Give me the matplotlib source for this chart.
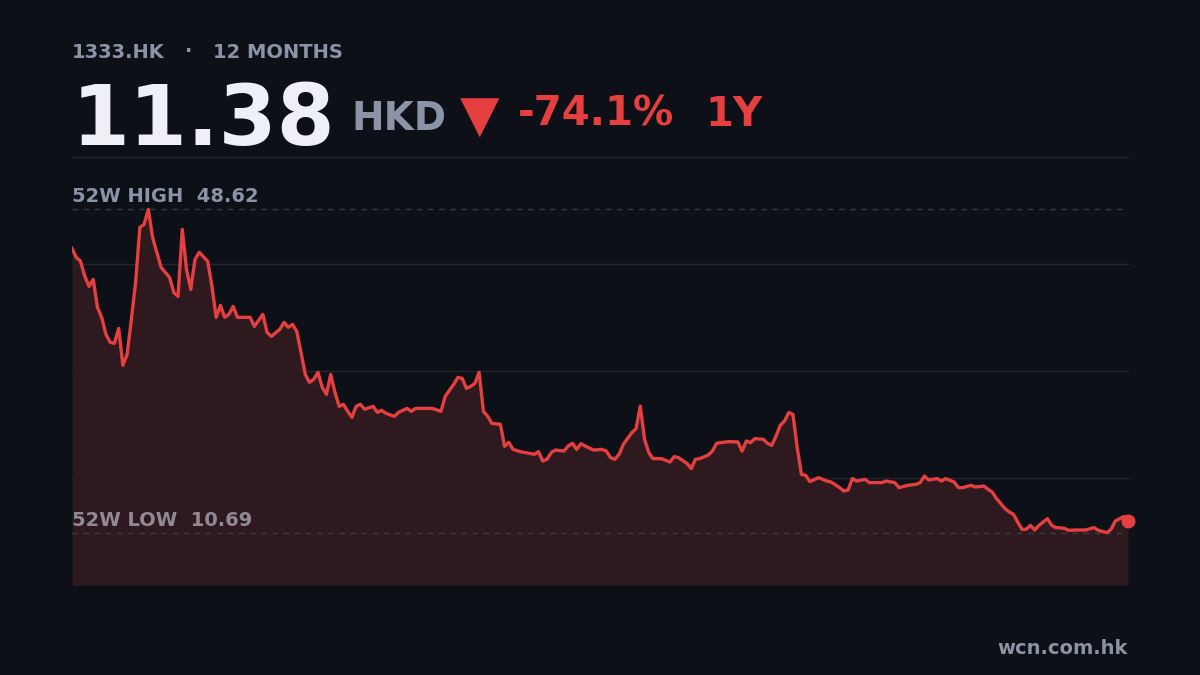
import matplotlib
matplotlib.use('Agg')
import matplotlib.pyplot as plt

plt.rcParams['font.family'] = ['DejaVu Sans']

# trading day index (0 = first day of the 12 months) and close price, HKD
days = [0, 1, 2, 3, 4, 5, 6, 7, 8, 9, 10, 11, 12, 13, 14, 15, 16, 17, 18, 19,
        20, 21, 23, 24, 25, 26, 27, 28, 29, 30, 32, 33, 34, 35, 36, 37, 38, 39,
        42, 43, 45, 46, 47, 49, 50, 51, 52, 53, 54, 55, 56, 57, 58, 59, 60, 61,
        62, 63, 64, 65, 66, 67, 68, 69, 71, 72, 73, 74, 76, 77, 79, 80, 81, 84,
        85, 87, 88, 90, 91, 92, 93, 94, 95, 96, 97, 98, 99, 101, 102, 103, 104,
        106, 107, 109, 110, 111, 112, 113, 114, 116, 117, 118, 119, 120, 121,
        123, 125, 126, 127, 128, 129, 130, 132, 133, 134, 135, 136, 137, 139,
        141, 142, 143, 145, 146, 147, 148, 150, 151, 152, 153, 155, 157, 158,
        159, 160, 161, 163, 164, 165, 166, 167, 168, 169, 170, 171, 172, 173,
        174, 176, 178, 179, 181, 182, 183, 184, 185, 187, 188, 191, 192, 194,
        195, 197, 199, 200, 201, 202, 204, 205, 206, 208, 209, 210, 212, 213,
        215, 216, 217, 218, 220, 221, 222, 223, 224, 225, 226, 227, 228, 230,
        231, 232, 234, 235, 237, 239, 241, 242, 244, 245, 246, 248, 249]
prices = [44.05, 42.99, 42.55, 40.80, 39.59, 40.41, 37.12, 35.95, 33.96, 33.02,
          32.90, 34.66, 30.32, 31.61, 35.72, 40.06, 46.51, 46.86, 48.62, 45.34,
          43.58, 41.82, 40.64, 38.88, 38.41, 46.27, 41.58, 39.23, 42.75, 43.58,
          42.52, 39.59, 35.95, 37.36, 35.95, 36.30, 37.24, 35.95, 35.95, 34.89,
          36.30, 34.19, 33.72, 34.54, 35.36, 34.78, 35.13, 34.31, 31.84, 29.26,
          28.32, 28.68, 29.50, 27.74, 26.92, 29.26, 27.15, 25.51, 25.74, 24.92,
          24.22, 25.51, 25.74, 25.16, 25.51, 24.80, 25.04, 24.69, 24.34, 24.80,
          25.27, 24.92, 25.27, 25.27, 25.27, 24.92, 26.68, 28.09, 28.91, 28.79,
          27.62, 27.85, 28.21, 29.50, 24.92, 24.34, 23.51, 23.40, 20.82, 21.28,
          20.46, 20.15, 20.08, 19.88, 20.19, 19.09, 19.29, 20.08, 20.38, 20.26,
          20.85, 21.17, 20.46, 21.13, 20.85, 20.38, 20.46, 20.26, 19.49, 19.29,
          19.88, 21.05, 22.42, 22.89, 25.54, 21.64, 20.08, 19.37, 19.37, 18.97,
          19.61, 19.49, 18.82, 18.20, 19.29, 19.37, 19.79, 20.26, 21.17, 21.25,
          21.37, 21.32, 20.26, 21.44, 21.25, 21.72, 21.64, 21.17, 20.93, 22.02,
          23.28, 23.78, 24.77, 24.57, 20.66, 17.53, 17.41, 16.67, 17.14, 16.74,
          16.63, 15.97, 15.57, 15.69, 17.03, 16.74, 16.94, 16.56, 16.56, 16.74,
          16.56, 15.97, 16.24, 16.36, 16.56, 17.33, 16.86, 17.03, 16.74, 17.03,
          16.63, 15.97, 15.97, 16.24, 16.04, 16.16, 15.77, 15.45, 14.68, 13.51,
          13.11, 12.84, 11.93, 11.08, 11.08, 11.55, 11.00, 11.55, 12.33, 11.55,
          11.28, 11.20, 10.96, 11.00, 11.00, 11.28, 10.96, 10.69, 11.08, 12.05,
          12.57, 12.05]

ticker = '1333.HK'
period = '12 MONTHS'
last_price = '11.38'
currency = 'HKD'
change = '-74.1%'
span = '1Y'
source = 'wcn.com.hk'

bg = '#0d1017'
red = '#e5403f'
grey = '#8a94a6'
white = '#eef0f6'

hi = max(prices)
lo = min(prices)
pad = 0.162 * (hi - lo)
ymin, ymax = lo - pad, hi + pad

W, H = 1200, 675
fig = plt.figure(figsize=(12, 6.75), dpi=100, facecolor=bg)

def fx(px):
    return px / W

def fy(py):
    return 1 - py / H

ax = fig.add_axes([fx(72), fy(585), fx(1128) - fx(72), fy(157) - fy(585)])
ax.set_facecolor(bg)
ax.set_xlim(days[0], days[-1])
ax.set_ylim(ymin, ymax)
for s in ax.spines.values():
    s.set_visible(False)
ax.set_xticks([])
ax.set_yticks([])

# quarter grid, top one doubles as the separator under the header
for k in range(1, 5):
    ax.axhline(ymin + k * (ymax - ymin) / 4, color='#22262e', lw=1, zorder=1, clip_on=False)

ax.axhline(hi, color='#363a43', lw=1, ls=(0, (4, 4)), zorder=1)
ax.axhline(lo, color='#3e3a42', lw=1, ls=(0, (4, 4)), zorder=3)

ax.fill_between(days, prices, ymin, color='#2e191f', lw=0, zorder=2)
ax.plot(days, prices, color=red, lw=2.4, zorder=4, solid_joinstyle='round')
ax.plot(days[-1], prices[-1], 'o', color=red, ms=9, zorder=5, clip_on=False)

# header
fig.text(fx(72), fy(57.5), ticker, color=grey, fontsize=14, fontweight='bold', va='baseline')
fig.text(fx(189), fy(57.5), '·', color=grey, fontsize=14, fontweight='bold', va='baseline', ha='center')
fig.text(fx(213), fy(57.5), period, color=grey, fontsize=14, fontweight='bold', va='baseline')
fig.text(fx(72), fy(145), last_price, color=white, fontsize=60, fontweight='bold', va='baseline')
fig.text(fx(351), fy(130), currency, color=grey, fontsize=28, fontweight='bold', va='baseline')
fig.text(fx(480), fy(118), '▼', color=red, fontsize=37, va='center', ha='center')
fig.text(fx(518), fy(126), change, color=red, fontsize=29, fontweight='bold', va='baseline')
fig.text(fx(705), fy(126), span, color=red, fontsize=29, fontweight='bold', va='baseline')

# 52 week labels
ax.annotate('52W HIGH  %.2f' % hi, (0, hi), xytext=(0, 7), textcoords='offset pixels',
            color=grey, fontsize=14, fontweight='bold', va='baseline', zorder=6)
ax.annotate('52W LOW  %.2f' % lo, (0, lo), xytext=(0, 7), textcoords='offset pixels',
            color='#8f8a96', fontsize=14, fontweight='bold', va='baseline', zorder=6)

fig.text(fx(1128), fy(654), source, color=grey, fontsize=14, fontweight='bold', va='baseline', ha='right')

plt.savefig('out.png', dpi=100, facecolor=bg)
